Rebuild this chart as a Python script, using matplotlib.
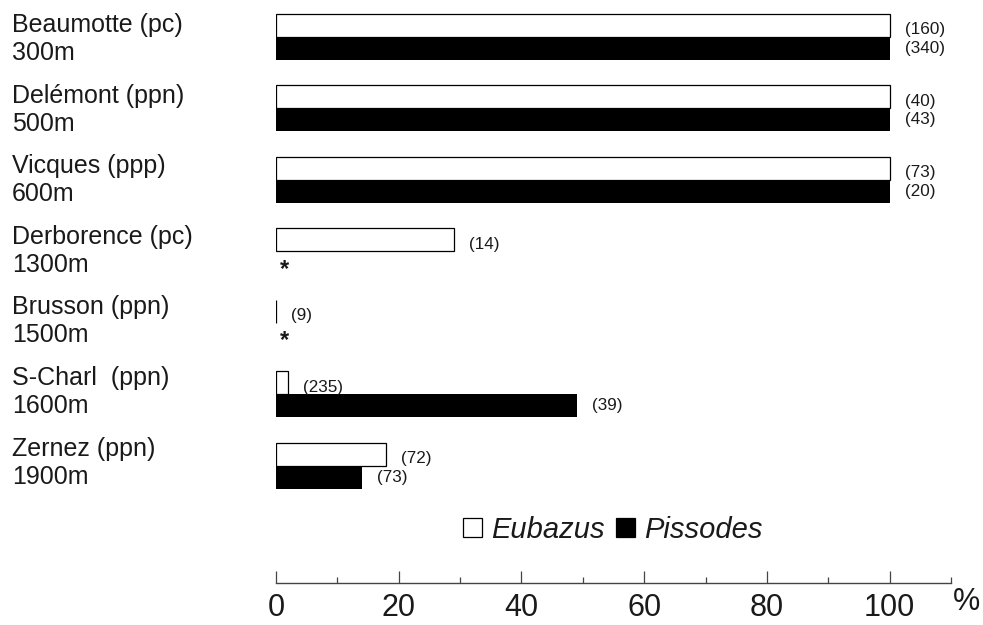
import numpy as np
import matplotlib
matplotlib.use("Agg")
import matplotlib.pyplot as plt
from matplotlib.patches import Patch

plt.rcParams["font.family"] = ["Liberation Sans", "DejaVu Sans"]

# Sites (host in brackets) and altitude
sites     = ["Beaumotte (pc)", "Delémont (ppn)", "Vicques (ppp)", "Derborence (pc)",
             "Brusson (ppn)", "S-Charl  (ppn)", "Zernez (ppn)"]
altitudes = ["300m", "500m", "600m", "1300m", "1500m", "1600m", "1900m"]

# % of each parasitoid genus, with sample sizes in brackets
eubazus_pct  = [100, 100, 100, 29, 0, 2, 18]
pissodes_pct = [100, 100, 100, 0, 0, 49, 14]
eubazus_n    = [160, 40, 73, 14, 9, 235, 72]
pissodes_n   = [340, 43, 20, None, None, 39, 73]

x_ticks = [0, 20, 40, 60, 80, 100]

W, H = 983, 625
fig = plt.figure(figsize=(W / 100, H / 100), dpi=100)
fig.patch.set_facecolor("white")

# axes: 0 % sits at x=276 px, 110 % at 951 px; baseline at y=583 px
ax = fig.add_axes([276 / W, 42 / H, 675 / W, 583 / H])
step = 71.5                       # px between groups
y0 = 37                           # px of first group centre
bar_h = 23 / step
ax.set_xlim(0, 110)
ax.set_ylim((583 - y0) / step, -y0 / step)

y = np.arange(len(sites))
ax.barh(y - bar_h / 2, eubazus_pct, height=bar_h, color="white",
        edgecolor="black", linewidth=0.9)
ax.barh(y + bar_h / 2, pissodes_pct, height=bar_h, color="black",
        edgecolor="none")

off = 15 / 6.14                   # label gap of ~15 px in % units
txt_col = "#1a1a1a"
for i in range(len(sites)):
    ax.text(eubazus_pct[i] + off, i - bar_h / 2 + 0.06, f"({eubazus_n[i]})",
            fontsize=12.3, va="center", ha="left", color=txt_col)
    if pissodes_n[i] is None:
        ax.text(1.4, i + 0.25, "*", fontsize=17, fontweight="bold",
                va="center", ha="center", color=txt_col)
    else:
        ax.text(pissodes_pct[i] + off, i + bar_h / 2, f"({pissodes_n[i]})",
                fontsize=12.3, va="center", ha="left", color=txt_col)

    # site name + altitude, left of the bars
    base = 32 + 70.6 * i
    fig.text(12 / W, 1 - base / H, sites[i], fontsize=18, ha="left",
             va="baseline", color=txt_col)
    fig.text(12 / W, 1 - (base + 28) / H, altitudes[i], fontsize=18,
             ha="left", va="baseline", color=txt_col)

for s in ["top", "left", "right"]:
    ax.spines[s].set_visible(False)
ax.spines["bottom"].set_color("#444444")
ax.spines["bottom"].set_linewidth(1.0)
ax.set_yticks([])
ax.set_xticks(x_ticks)
ax.set_xticks([10, 30, 50, 70, 90, 110], minor=True)
ax.tick_params(axis="x", which="major", direction="in", length=8.6, width=0.9,
               color="#444444", labelsize=22, pad=7)
ax.tick_params(axis="x", which="minor", direction="in", length=4.3, width=0.9,
               color="#444444")
for lab in ax.get_xticklabels():
    lab.set_color(txt_col)

fig.text(966 / W, 1 - 602 / H, "%", fontsize=22, ha="center", va="center",
         color=txt_col)

handles = [Patch(facecolor="white", edgecolor="black", linewidth=0.9),
           Patch(facecolor="black", edgecolor="black", linewidth=0.9)]
fig.legend(handles, ["Eubazus", "Pissodes"], loc="center",
           bbox_to_anchor=(613 / W, 1 - 530 / H), ncol=2, frameon=False,
           prop={"style": "italic", "size": 21}, handlelength=0.65,
           handleheight=0.65, handletextpad=0.3, columnspacing=0.4,
           labelcolor=txt_col)

fig.savefig("out.png", dpi=100, facecolor="white")
